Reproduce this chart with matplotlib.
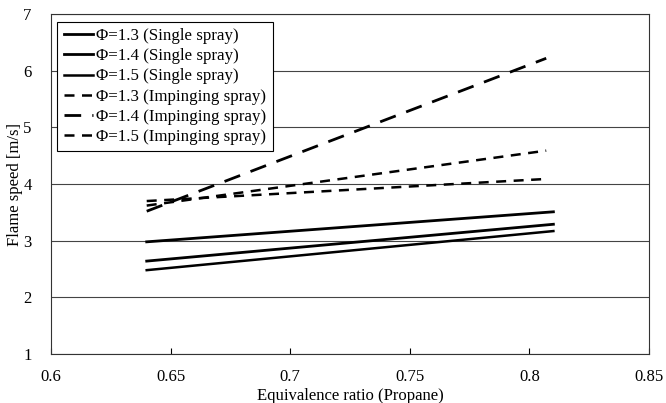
import matplotlib
matplotlib.use("Agg")
import matplotlib.pyplot as plt

plt.rcParams['font.family'] = ['Liberation Serif', 'DejaVu Serif']
plt.rcParams['mathtext.fontset'] = 'stix'

# equivalence ratio (propane)
x_single = [0.64, 0.81]
x_imp = [0.64, 0.807]

# flame speed [m/s]
single_13 = [2.98, 3.51]
single_14 = [2.64, 3.29]
single_15 = [2.48, 3.17]
imp_13 = [3.62, 4.59]
imp_14 = [3.52, 6.22]
imp_15 = [3.70, 4.09]

labels = ['Φ=1.3 (Single spray)', 'Φ=1.4 (Single spray)', 'Φ=1.5 (Single spray)',
          'Φ=1.3 (Impinging spray)', 'Φ=1.4 (Impinging spray)', 'Φ=1.5 (Impinging spray)']

fig = plt.figure(figsize=(6.66, 4.03), dpi=100)
ax = fig.add_axes([0.0766, 0.1216, 0.898, 0.8434])

ax.plot(x_single, single_13, color='black', linestyle='-', linewidth=2.0, label=labels[0])
ax.plot(x_single, single_14, color='black', linestyle='-', linewidth=2.0, label=labels[1])
ax.plot(x_single, single_15, color='black', linestyle='-', linewidth=1.8, label=labels[2])
ax.plot(x_imp, imp_13, color='black', linestyle=(0, (4, 3)), linewidth=1.8, label=labels[3])
ax.plot(x_imp, imp_14, color='black', linestyle=(0, (6, 4)), linewidth=2.0, label=labels[4])
ax.plot(x_imp, imp_15, color='black', linestyle=(0, (4, 3)), linewidth=1.8, label=labels[5])

ax.set_xlim(0.6, 0.85)
ax.set_ylim(1, 7)
ax.set_xticks([0.6, 0.65, 0.7, 0.75, 0.8, 0.85])
ax.set_xticklabels(['0.6', '0.65', '0.7', '0.75', '0.8', '0.85'])
ax.set_yticks([1, 2, 3, 4, 5, 6, 7])
ax.grid(axis='y', color='#444444', linewidth=0.8)
ax.set_axisbelow(True)
ax.tick_params(axis='x', direction='in', length=4, labelsize=12, pad=11)
ax.tick_params(axis='y', length=0, labelsize=12, pad=14)
for s in ax.spines.values():
    s.set_linewidth(0.8)
    s.set_color('#333333')

ax.set_xlabel('Equivalence ratio (Propane)', fontsize=12, labelpad=2)
ax.set_ylabel('Flame speed [m/s]', fontsize=12, labelpad=0)

leg = ax.legend(loc='upper left', bbox_to_anchor=(0.01, 0.978), fontsize=12.2,
                frameon=True, fancybox=False, edgecolor='black', framealpha=1,
                handlelength=1.7, handletextpad=0.2, borderpad=0.4, labelspacing=0.24,
                borderaxespad=0)
leg.get_frame().set_linewidth(0.8)

fig.savefig('out.png', dpi=100)
